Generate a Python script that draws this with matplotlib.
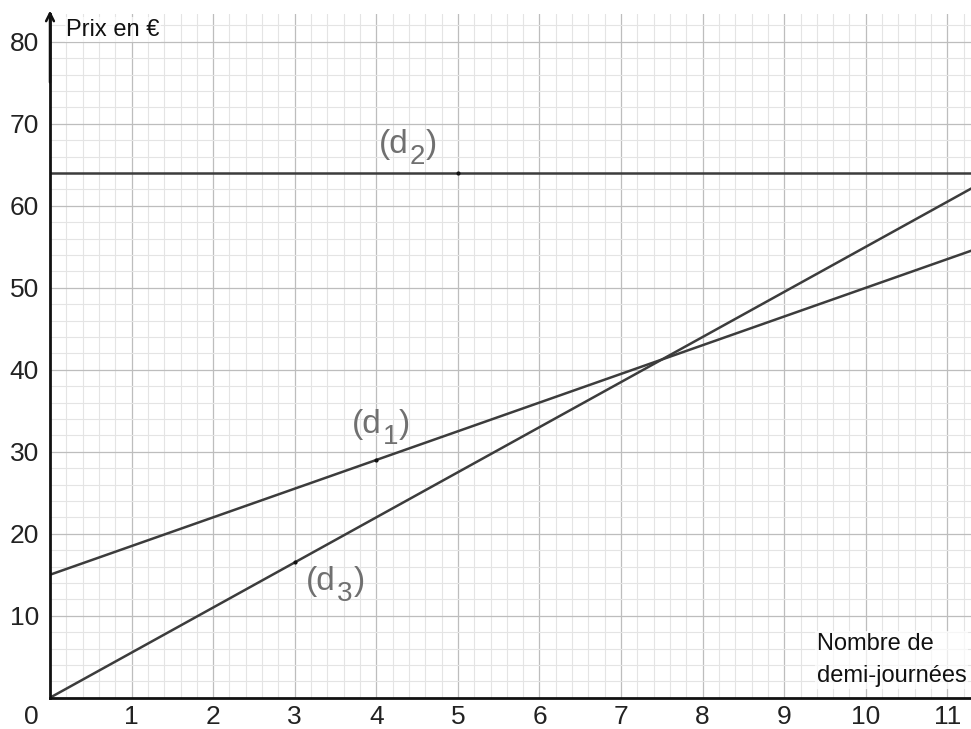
import numpy as np
import matplotlib.pyplot as plt
from matplotlib.ticker import MultipleLocator

plt.rcParams['font.family'] = ['Liberation Sans', 'DejaVu Sans']

# donnees
x_range = [0, 11.3]
d1_origine, d1_pente = 15, 3.5     # (d1)
d2_valeur = 64                     # (d2)
d3_pente = 5.5                     # (d3)
points_x = [4, 5, 3]
points_y = [29, 64, 16.5]
x_ticks = list(range(1, 12))
y_ticks = list(range(10, 81, 10))

fig = plt.figure(figsize=(9.71, 7.29), dpi=100)
ax = fig.add_axes([50 / 971, 1 - 697.7 / 729, 921 / 971, 683.7 / 729])
ax.set_xlim(0, 11.29)
ax.set_ylim(0, 83.4)

ax.xaxis.set_major_locator(MultipleLocator(1))
ax.xaxis.set_minor_locator(MultipleLocator(0.2))
ax.yaxis.set_major_locator(MultipleLocator(10))
ax.yaxis.set_minor_locator(MultipleLocator(2))
ax.grid(which='major', color='#bdbdbd', linewidth=0.9)
ax.grid(which='minor', color='#e4e4e4', linewidth=0.8)
ax.set_axisbelow(True)

ax.set_xticks(x_ticks)
ax.set_yticks(y_ticks)
ax.tick_params(which='both', length=0, labelsize=19, colors='#222222')
ax.tick_params(axis='x', pad=5)
ax.tick_params(axis='y', pad=8)

for s in ['top', 'right']:
    ax.spines[s].set_visible(False)
for s in ['left', 'bottom']:
    ax.spines[s].set_linewidth(2)
    ax.spines[s].set_color('#111111')

# droites
xs = np.array(x_range)
col = '#3c3c3c'
ax.plot(xs, d1_origine + d1_pente * xs, color=col, lw=1.8)
ax.plot(xs, [d2_valeur, d2_valeur], color=col, lw=1.8)
ax.plot(xs, d3_pente * xs, color=col, lw=1.8)
ax.plot(points_x, points_y, 'o', color='#111111', ms=2)

# fleche axe y
ax.annotate('', xy=(0, 1.005), xytext=(0, 0.9), xycoords='axes fraction',
            arrowprops=dict(arrowstyle='->', lw=1.8, color='#111111',
                            mutation_scale=14, shrinkA=0, shrinkB=0))

# etiquettes des droites, indice plus gros que le mathtext
lab_col = '#707070'
renderer = fig.canvas.get_renderer()


def nom_droite(x, y, indice):
    t1 = ax.text(x, y, '(d', fontsize=24, color=lab_col, va='baseline')
    w1 = t1.get_window_extent(renderer).width
    t2 = ax.annotate(indice, xy=(x, y), xytext=(w1 + 1, -11), textcoords='offset pixels',
                     fontsize=20, color=lab_col, va='baseline')
    w2 = t2.get_window_extent(renderer).width
    ax.annotate(')', xy=(x, y), xytext=(w1 + w2 + 2, 0), textcoords='offset pixels',
                fontsize=24, color=lab_col, va='baseline')


nom_droite(4.03, 66.5, '2')
nom_droite(3.70, 32.3, '1')
nom_droite(3.14, 13.1, '3')

ax.text(0.2, 81.5, 'Prix en €', fontsize=17, color='#111111', va='center',
        bbox=dict(facecolor='white', edgecolor='none', alpha=0.7, pad=1))
ax.text(9.40, 4.6, 'Nombre de\ndemi-journées', fontsize=17, color='#111111',
        va='center', ha='left', linespacing=1.62,
        bbox=dict(facecolor='white', edgecolor='none', alpha=0.7, pad=1))
ax.annotate('0', xy=(0, 0), xytext=(-19, -19), textcoords='offset pixels',
            fontsize=19, color='#222222', ha='center', va='center',
            annotation_clip=False)

fig.savefig('out.png', dpi=100)
